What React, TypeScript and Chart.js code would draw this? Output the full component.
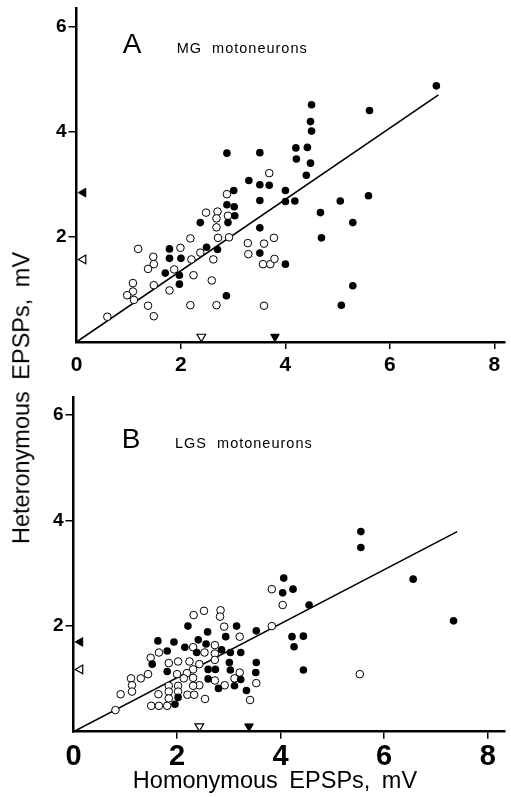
import React, { useEffect, useRef } from 'react';
import { Chart, registerables } from 'chart.js';

Chart.register(...registerables);

type P = [number, number];

// Axis ticks
const xTickValues = [0, 2, 4, 6, 8];
const yTickValues = [0, 2, 4, 6];

// Panel A: MG motoneurons (homonymous EPSP, heteronymous EPSP) in mV
const mgFilled: P[] = [
  [6.89, 4.87], [5.61, 4.40], [4.50, 4.51], [4.48, 4.19], [4.50, 4.01], [2.88, 3.59], [3.51, 3.60],
  [4.20, 3.69], [4.42, 3.70], [4.21, 3.48], [4.48, 3.40], [4.40, 3.17], [3.30, 3.07], [3.51, 2.99],
  [3.69, 2.98], [4.00, 2.88], [3.01, 2.88], [2.88, 2.61], [3.02, 2.57], [3.51, 2.69], [4.00, 2.67],
  [4.18, 2.68], [3.03, 2.40], [2.90, 2.27], [2.37, 2.27], [3.51, 2.17], [4.67, 2.46], [5.05, 2.68],
  [5.59, 2.78], [5.29, 2.27], [4.69, 1.98], [1.78, 1.77], [1.78, 1.59], [2.00, 1.59], [2.49, 1.80],
  [2.70, 1.76], [1.70, 1.31], [1.97, 1.27], [1.97, 1.10], [3.51, 1.69], [4.00, 1.48], [2.87, 0.88],
  [5.29, 1.07], [5.07, 0.70],
];
const mgOpen: P[] = [
  [3.69, 3.21], [2.88, 2.81], [2.48, 2.46], [2.70, 2.48], [2.68, 2.35], [2.90, 2.40], [2.68, 2.18],
  [2.71, 1.98], [2.92, 1.99], [2.18, 1.97], [3.28, 1.88], [3.59, 1.87], [3.78, 1.98], [3.29, 1.67],
  [3.57, 1.48], [3.71, 1.48], [3.79, 1.58], [1.18, 1.77], [1.47, 1.62], [1.48, 1.48], [1.37, 1.39],
  [1.99, 1.79], [2.20, 1.57], [2.37, 1.70], [2.62, 1.57], [1.87, 1.38], [2.24, 1.27], [1.48, 1.08],
  [1.08, 1.12], [1.08, 0.96], [0.97, 0.89], [1.10, 0.80], [1.78, 0.98], [2.59, 1.17], [1.37, 0.69],
  [2.18, 0.70], [2.68, 0.70], [3.59, 0.69], [0.59, 0.48], [1.48, 0.49],
];
const mgFit: P[] = [[0, 0], [6.93, 4.70]];
const mgMeanHomonymous = { open: 2.39, filled: 3.80 };
const mgMeanHeteronymous = { open: 1.57, filled: 2.84 };

// Panel B: LGS motoneurons
const lgsFilled: P[] = [
  [5.55, 3.79], [5.55, 3.49], [6.56, 2.89], [7.34, 2.10], [4.06, 2.91], [4.04, 2.63], [4.24, 2.70],
  [4.55, 2.40], [4.22, 1.80], [4.44, 1.81], [4.26, 1.61], [4.44, 1.17], [3.53, 1.91], [3.15, 2.00],
  [2.21, 2.00], [2.59, 1.89], [2.94, 1.80], [1.63, 1.72], [1.94, 1.70], [1.81, 1.53], [2.15, 1.60],
  [2.41, 1.74], [2.38, 1.50], [2.56, 1.66], [2.86, 1.55], [3.03, 1.50], [3.23, 1.50], [1.52, 1.28],
  [1.81, 1.14], [2.60, 1.18], [2.74, 1.18], [3.01, 1.31], [3.03, 1.17], [3.53, 1.31], [3.52, 1.12],
  [2.60, 1.00], [3.23, 0.99], [3.11, 0.87], [2.80, 0.82], [3.34, 0.78], [2.02, 0.65], [1.96, 0.52],
];
const lgsOpen: P[] = [
  [3.83, 2.70], [4.04, 2.40], [3.83, 2.00], [2.32, 2.21], [2.52, 2.29], [2.84, 2.30], [2.83, 2.18],
  [2.91, 1.99], [3.21, 1.80], [1.65, 1.50], [1.49, 1.40], [2.31, 1.60], [2.53, 1.50], [2.73, 1.64],
  [2.73, 1.48], [2.73, 1.36], [1.84, 1.30], [2.02, 1.33], [2.24, 1.33], [2.43, 1.28], [2.31, 1.18],
  [2.19, 1.11], [2.00, 1.09], [2.13, 1.01], [2.31, 1.02], [1.44, 1.09], [1.30, 1.01], [1.11, 1.01],
  [1.13, 0.88], [1.13, 0.76], [0.91, 0.71], [0.81, 0.41], [1.84, 0.87], [1.84, 0.76], [2.02, 0.87],
  [2.02, 0.76], [1.84, 0.63], [1.81, 0.49], [1.65, 0.49], [1.50, 0.49], [1.64, 0.71], [2.20, 0.70],
  [2.33, 0.70], [2.43, 0.88], [2.31, 0.87], [2.54, 0.62], [2.73, 0.97], [2.92, 0.88], [3.11, 1.01],
  [3.21, 1.12], [3.53, 0.92], [3.41, 0.60], [5.53, 1.09],
];
const lgsFit: P[] = [[0, 0], [7.41, 3.79]];
const lgsMeanHomonymous = { open: 2.43, filled: 3.39 };
const lgsMeanHeteronymous = { open: 1.18, filled: 1.70 };

const FONT = '"Liberation Sans", Arial, Helvetica, sans-serif';

interface PanelProps {
  top: number;
  height: number;
  filled: P[];
  open: P[];
  fit: P[];
  meanHom: { open: number; filled: number };
  meanHet: { open: number; filled: number };
  xMax: number;
  yMax: number;
  yAxisW: number;
  xAxisH: number;
  padTop: number;
  xTickFont: number;
  xTickPad: number;
  letter: string;
  subtitle: string;
  textBaseline: number;
  letterX: number;
  subX: number;
}

function Panel(p: PanelProps) {
  const ref = useRef<HTMLCanvasElement | null>(null);
  useEffect(() => {
    if (!ref.current) return;
    const pts = (a: P[]) => a.map(([x, y]) => ({ x, y }));
    const triX = 0.13;
    const triY = 0.1;
    const filledTri = { pointStyle: 'triangle', pointRadius: 5, backgroundColor: '#000', borderColor: '#000', pointBorderWidth: 1 };
    const openTri = { pointStyle: 'triangle', pointRadius: 5, backgroundColor: '#fff', borderColor: '#000', pointBorderWidth: 1.2 };
    const textPlugin = {
      id: 'panelText',
      afterDraw(chart: any) {
        const ctx = chart.ctx;
        ctx.save();
        ctx.fillStyle = '#000';
        ctx.textBaseline = 'alphabetic';
        ctx.textAlign = 'left';
        ctx.font = `28px ${FONT}`;
        ctx.fillText(p.letter, p.letterX, p.textBaseline);
        ctx.font = `14.5px ${FONT}`;
        try { (ctx as any).letterSpacing = '1px'; } catch (e) {}
        ctx.fillText(p.subtitle, p.subX, p.textBaseline);
        try { (ctx as any).letterSpacing = '0px'; } catch (e) {}
        ctx.restore();
      },
    };
    const chart = new Chart(ref.current, {
      type: 'scatter',
      data: {
        datasets: [
          { type: 'line', data: pts(p.fit), borderColor: '#000', borderWidth: 1.6, pointRadius: 0, fill: false, order: 5 } as any,
          { data: pts(p.open), pointRadius: 3.8, backgroundColor: '#fff', borderColor: '#000', pointBorderWidth: 1, order: 4 } as any,
          { data: pts(p.filled), pointRadius: 3.8, backgroundColor: '#000', borderColor: '#000', pointBorderWidth: 0, order: 3 } as any,
          { data: [{ x: triX, y: p.meanHet.filled }], pointRotation: -90, ...filledTri, order: 1 } as any,
          { data: [{ x: triX, y: p.meanHet.open }], pointRotation: -90, ...openTri, order: 1 } as any,
          { data: [{ x: p.meanHom.open, y: triY }], pointRotation: 180, ...openTri, order: 1 } as any,
          { data: [{ x: p.meanHom.filled, y: triY }], pointRotation: 180, ...filledTri, order: 1 } as any,
        ],
      },
      options: {
        responsive: false,
        animation: false,
        devicePixelRatio: 1,
        events: [],
        layout: { padding: { top: p.padTop, right: 1, left: 0, bottom: 0 } },
        plugins: { legend: { display: false }, tooltip: { enabled: false }, title: { display: false } },
        scales: {
          x: {
            type: 'linear',
            min: 0,
            max: p.xMax,
            afterBuildTicks: (s: any) => { s.ticks = xTickValues.map((v) => ({ value: v })); },
            afterFit: (s: any) => { s.height = p.xAxisH; s.paddingLeft = 0; s.paddingRight = 0; },
            ticks: {
              color: '#000',
              font: { family: FONT, size: p.xTickFont, weight: 'bold' },
              padding: p.xTickPad,
              maxRotation: 0,
              autoSkip: false,
              callback: (v: any) => String(v),
            },
            grid: {
              drawOnChartArea: false,
              drawTicks: true,
              tickLength: 7,
              lineWidth: 1.5,
              color: (c: any) => (c.tick && c.tick.value === 0 ? 'rgba(0,0,0,0)' : '#000'),
            },
            border: { display: true, color: '#000', width: 2.5 },
          },
          y: {
            type: 'linear',
            min: 0,
            max: p.yMax,
            afterBuildTicks: (s: any) => { s.ticks = yTickValues.map((v) => ({ value: v })); },
            afterFit: (s: any) => { s.width = p.yAxisW; s.paddingTop = 0; s.paddingBottom = 0; },
            ticks: {
              color: '#000',
              font: { family: FONT, size: 19, weight: 'bold' },
              padding: 2,
              callback: (v: any) => (v === 0 ? '' : String(v)),
            },
            grid: {
              drawOnChartArea: false,
              drawTicks: true,
              tickLength: 8,
              lineWidth: 1.5,
              color: (c: any) => (c.tick && c.tick.value === 0 ? 'rgba(0,0,0,0)' : '#000'),
            },
            border: { display: true, color: '#000', width: 2.5 },
          },
        },
      } as any,
      plugins: [textPlugin as any],
    });
    return () => chart.destroy();
  }, []);
  return (
    <canvas
      ref={ref}
      width={511}
      height={p.height}
      style={{ position: 'absolute', left: 0, top: p.top, width: 511, height: p.height }}
    />
  );
}

export default function App() {
  return (
    <div style={{ position: 'absolute', left: 0, top: 0, width: 511, height: 797, background: '#fff', overflow: 'hidden' }}>
      <Panel
        top={0} height={390}
        filled={mgFilled} open={mgOpen} fit={mgFit}
        meanHom={mgMeanHomonymous} meanHet={mgMeanHeteronymous}
        xMax={8.2} yMax={6.35} yAxisW={76.5} xAxisH={48} padTop={8}
        xTickFont={21} xTickPad={4}
        letter="A" subtitle="MG  motoneurons" textBaseline={53} letterX={122.7} subX={176.7}
      />
      <Panel
        top={390} height={407}
        filled={lgsFilled} open={lgsOpen} fit={lgsFit}
        meanHom={lgsMeanHomonymous} meanHet={lgsMeanHeteronymous}
        xMax={8.33} yMax={6.34} yAxisW={73.5} xAxisH={65.3} padTop={7}
        xTickFont={29} xTickPad={1}
        letter="B" subtitle="LGS  motoneurons" textBaseline={58} letterX={121.7} subX={175}
      />
      <div
        style={{
          position: 'absolute', left: 22, top: 398, transform: 'translate(-50%, -50%) rotate(-90deg)',
          whiteSpace: 'nowrap', fontFamily: FONT, fontSize: 23.5, lineHeight: 1, color: '#000', wordSpacing: 5,
        }}
      >
        Heteronymous EPSPs, mV
      </div>
      <div
        style={{
          position: 'absolute', left: 275, top: 781, transform: 'translate(-50%, -50%)',
          whiteSpace: 'nowrap', fontFamily: FONT, fontSize: 23.5, lineHeight: 1, color: '#000', wordSpacing: 5,
        }}
      >
        Homonymous EPSPs, mV
      </div>
    </div>
  );
}
